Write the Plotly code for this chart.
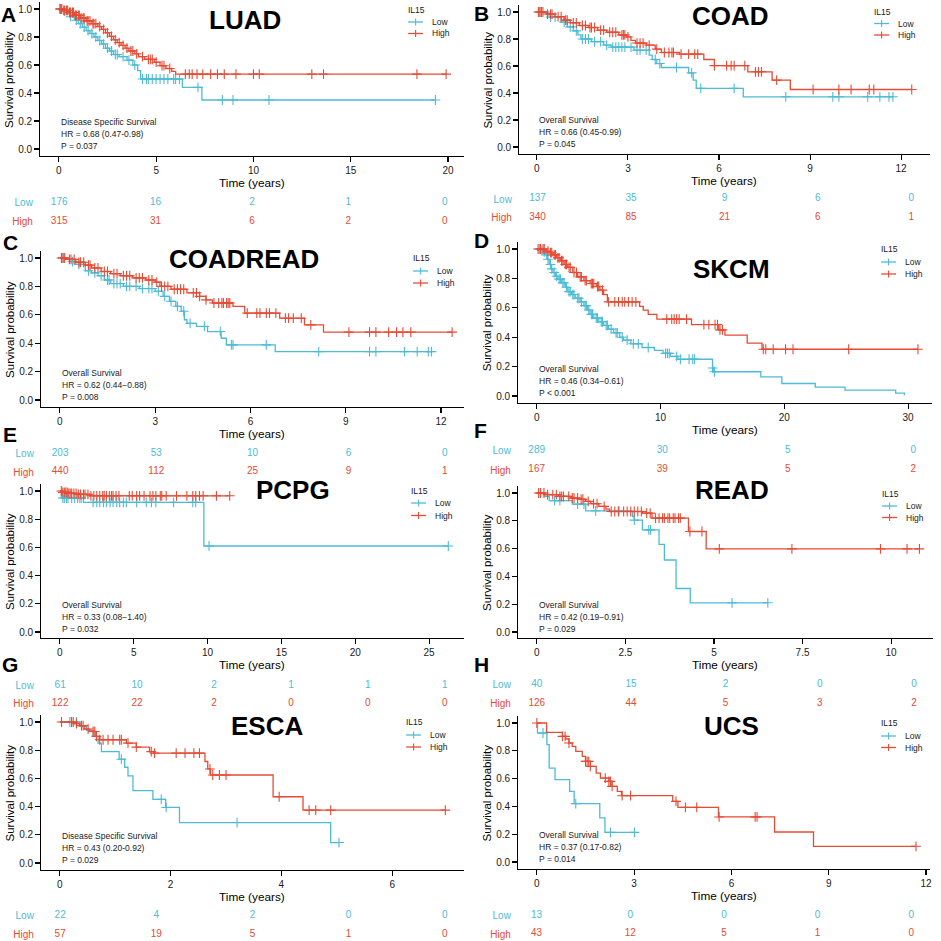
import plotly.graph_objects as go

W = H = 941
LOW_COLOR = "#4DBBD5"
HIGH_COLOR = "#E64B35"
FONT = "Liberation Sans, Arial, sans-serif"
TXT = "#1a1a1a"

# ------------------------------------------------------------------ data
panel_letters = ["A", "B", "C", "D", "E", "F", "G", "H"]
cancer_names = ["LUAD", "COAD", "COADREAD", "SKCM", "PCPG", "READ", "ESCA", "UCS"]
endpoint_texts = ["Disease Specific Survival", "Overall Survival", "Overall Survival",
                  "Overall Survival", "Overall Survival", "Overall Survival",
                  "Disease Specific Survival", "Overall Survival"]
hr_texts = ["HR = 0.68 (0.47-0.98)", "HR = 0.66 (0.45-0.99)", "HR = 0.62 (0.44\u22120.88)",
            "HR = 0.46 (0.34\u22120.61)", "HR = 0.33 (0.08\u22121.40)", "HR = 0.42 (0.19\u22120.91)",
            "HR = 0.43 (0.20-0.92)", "HR = 0.37 (0.17-0.82)"]
p_texts = ["P = 0.037", "P = 0.045", "P = 0.008", "P < 0.001",
           "P = 0.032", "P = 0.029", "P = 0.029", "P = 0.014"]
group_names = ["Low", "High"]
legend_title = "IL15"

# ---- LUAD
luad_ticks = [0, 5, 10, 15, 20]
luad_low_event_t = [0.2, 0.4, 0.6, 0.8, 1.0, 1.2, 1.4, 1.6, 1.8, 2.0, 2.2, 2.4, 2.6, 2.8, 3.1, 3.5, 3.8, 4.05, 4.2, 6.35, 7.35]
luad_low_event_s = [0.985, 0.965, 0.945, 0.92, 0.895, 0.87, 0.845, 0.825, 0.80, 0.775, 0.75, 0.72, 0.70, 0.675, 0.66, 0.635, 0.60, 0.56, 0.50, 0.44, 0.35]
luad_low_censor_t = [0.1, 0.3, 0.6, 0.9, 1.1, 1.3, 1.5, 1.7, 1.9, 2.1, 2.3, 2.5, 2.7, 2.9, 3.0, 3.3, 3.6, 3.9,
                     4.3, 4.5, 4.6, 4.8, 5.0, 5.2, 5.4, 5.6, 5.9, 6.0, 6.2, 7.15, 8.4, 8.95, 10.8, 19.35]
luad_high_event_t = [0.2, 0.5, 0.8, 1.1, 1.4, 1.7, 2.0, 2.2, 2.4, 2.6, 2.8, 3.0, 3.2, 3.4, 3.6, 3.9, 4.1, 4.4, 4.9, 5.2, 5.5, 5.8, 6.0]
luad_high_event_s = [0.99, 0.975, 0.955, 0.935, 0.915, 0.895, 0.875, 0.855, 0.83, 0.805, 0.78, 0.76, 0.74, 0.72, 0.70, 0.68, 0.66, 0.64, 0.62, 0.595, 0.575, 0.555, 0.535]
luad_high_censor_t = [0.05, 0.1, 0.15, 0.25, 0.3, 0.4, 0.45, 0.55, 0.6, 0.7, 0.75, 0.85, 0.9, 1.0, 1.05, 1.15, 1.25, 1.3,
                      1.45, 1.5, 1.6, 1.75, 1.8, 1.9, 2.1, 2.3, 2.5, 2.7, 2.9, 3.1, 3.3, 3.5, 3.7, 3.8, 4.0, 4.3, 4.6,
                      4.7, 4.8, 5.0, 5.3, 5.4, 5.7, 6.5, 6.7, 6.85, 7.1, 7.4, 7.8, 8.15, 8.5, 9.1, 10.0, 10.3, 13.0,
                      13.6, 18.4, 19.9]
luad_risk_t = [0, 5, 10, 15, 20]
luad_risk_low = [176, 16, 2, 1, 0]
luad_risk_high = [315, 31, 6, 2, 0]

# ---- COAD
coad_ticks = [0, 3, 6, 9, 12]
coad_low_event_t = [0.4, 0.8, 1.0, 1.2, 1.35, 1.45, 1.8, 2.2, 2.45, 3.2, 3.7, 3.8, 3.95, 4.1, 5.0, 5.15, 5.25, 6.8]
coad_low_event_s = [0.963, 0.925, 0.89, 0.86, 0.83, 0.80, 0.78, 0.755, 0.74, 0.717, 0.68, 0.648, 0.618, 0.589, 0.549, 0.495, 0.434, 0.372]
coad_low_censor_t = [0.1, 0.45, 0.6, 0.9, 1.1, 1.3, 1.5, 1.6, 1.7, 1.9, 2.1, 2.3, 2.5, 2.6, 2.7, 2.8, 2.9, 3.1, 3.3,
                     3.4, 3.6, 3.9, 4.05, 4.6, 5.1, 5.4, 6.5, 8.2, 9.75, 9.95, 10.9, 11.3, 11.6, 11.73]
coad_high_event_t = [0.3, 0.6, 0.9, 1.1, 1.4, 1.7, 2.0, 2.3, 2.7, 2.95, 3.1, 3.25, 3.6, 3.9, 4.1, 4.7, 5.5, 5.85, 6.95, 7.75, 8.35]
coad_high_event_s = [0.985, 0.965, 0.94, 0.92, 0.90, 0.885, 0.865, 0.85, 0.83, 0.815, 0.79, 0.77, 0.755, 0.725, 0.70, 0.688, 0.648, 0.603, 0.557, 0.495, 0.426]
coad_high_censor_t = [0.05, 0.1, 0.15, 0.2, 0.35, 0.45, 0.5, 0.7, 0.8, 0.95, 1.0, 1.2, 1.3, 1.5, 1.6, 1.75, 1.8, 1.9,
                      2.1, 2.2, 2.4, 2.5, 2.6, 2.8, 2.85, 2.9, 3.0, 3.3, 3.4, 3.5, 3.7, 3.95, 4.2, 4.35, 4.45, 4.5,
                      4.75, 5.0, 5.2, 5.3, 5.85, 6.25, 6.4, 6.5, 6.85, 7.2, 7.3, 7.4, 7.9, 9.1, 9.95, 10.35, 10.95,
                      11.1, 12.35]
coad_risk_t = [0, 3, 6, 9, 12]
coad_risk_low = [137, 35, 9, 6, 0]
coad_risk_high = [340, 85, 21, 6, 1]

# ---- COADREAD
coadread_ticks = [0, 3, 6, 9, 12]
coadread_low_event_t = [0.3, 0.5, 0.8, 1.0, 1.2, 1.4, 1.6, 2.0, 2.5, 3.0, 3.25, 3.45, 3.65, 3.82, 3.92, 4.0, 4.3, 4.65, 5.08, 5.24, 6.78]
coadread_low_event_s = [0.975, 0.955, 0.91, 0.895, 0.875, 0.845, 0.82, 0.80, 0.785, 0.765, 0.73, 0.695, 0.66, 0.625, 0.565, 0.54, 0.518, 0.482, 0.435, 0.388, 0.341]
coadread_low_censor_t = [0.1, 0.4, 0.6, 0.9, 1.1, 1.3, 1.5, 1.55, 1.7, 1.8, 1.9, 2.1, 2.2, 2.4, 2.6, 2.8, 2.9, 3.1,
                         3.3, 3.5, 3.7, 3.9, 4.1, 4.55, 5.05, 5.4, 5.45, 6.5, 8.15, 9.75, 9.95, 10.85, 11.25, 11.6, 11.7]
coadread_high_event_t = [0.2, 0.5, 0.8, 1.0, 1.3, 1.6, 1.9, 2.3, 2.7, 3.0, 3.15, 3.5, 4.0, 4.4, 4.6, 4.8, 5.45, 5.82, 6.92, 7.7, 8.3]
coadread_high_event_s = [0.99, 0.97, 0.95, 0.93, 0.905, 0.89, 0.875, 0.86, 0.845, 0.83, 0.80, 0.78, 0.755, 0.73, 0.705, 0.683, 0.659, 0.612, 0.576, 0.529, 0.478]
coadread_high_censor_t = [0.05, 0.1, 0.15, 0.3, 0.35, 0.45, 0.6, 0.65, 0.75, 0.9, 0.95, 1.1, 1.2, 1.4, 1.5, 1.7, 1.8,
                          2.0, 2.1, 2.2, 2.4, 2.5, 2.6, 2.8, 2.9, 3.05, 3.2, 3.3, 3.4, 3.6, 3.7, 3.8, 3.9, 4.2, 4.3,
                          4.4, 4.6, 4.85, 5.0, 5.1, 5.15, 5.25, 5.3, 5.35, 5.9, 6.2, 6.3, 6.5, 6.6, 6.8, 7.1, 7.2,
                          7.35, 7.6, 7.9, 9.1, 9.75, 9.95, 10.35, 10.6, 10.8, 11.05, 12.35]
coadread_risk_t = [0, 3, 6, 9, 12]
coadread_risk_low = [203, 53, 10, 6, 0]
coadread_risk_high = [440, 112, 25, 9, 1]

# ---- SKCM
skcm_ticks = [0, 10, 20, 30]
skcm_low_event_t = [0.3, 0.5, 0.7, 0.85, 1.0, 1.15, 1.3, 1.5, 1.7, 2.0, 2.3, 2.5, 2.8, 3.1, 3.5, 3.8, 4.1, 4.3, 4.6,
                    5.0, 5.4, 5.8, 6.2, 6.7, 7.0, 7.6, 8.5, 9.5, 10.2, 10.8, 11.4, 14.2, 14.3, 18.1, 19.8, 22.5,
                    24.9, 29.0, 29.7]
skcm_low_event_s = [0.99, 0.98, 0.96, 0.93, 0.895, 0.865, 0.84, 0.815, 0.795, 0.77, 0.74, 0.71, 0.69, 0.665, 0.64,
                    0.615, 0.585, 0.555, 0.53, 0.505, 0.48, 0.455, 0.43, 0.40, 0.38, 0.355, 0.33, 0.31, 0.29, 0.27,
                    0.25, 0.19, 0.165, 0.13, 0.085, 0.06, 0.04, 0.02, 0.005]
skcm_low_censor_t = [0.2, 0.4, 0.6, 0.8, 0.9, 1.1, 1.2, 1.4, 1.6, 1.8, 1.9, 2.1, 2.2, 2.4, 2.6, 2.7, 2.9, 3.0, 3.3,
                     3.4, 3.6, 3.9, 4.0, 4.2, 4.4, 4.5, 4.8, 4.9, 5.2, 5.3, 5.6, 5.7, 6.0, 6.4, 6.5, 6.9, 7.3, 7.8,
                     8.2, 9.0, 10.4, 10.55, 10.7, 11.3, 11.6, 12.3, 12.6, 12.75, 14.2, 14.35]
skcm_high_event_t = [0.75, 1.0, 1.3, 1.6, 1.9, 2.2, 2.5, 2.9, 3.3, 3.8, 4.3, 4.8, 5.1, 5.4, 5.7, 8.3, 8.6, 9.0, 9.7,
                     12.5, 14.7, 15.2, 17.0, 18.2]
skcm_high_event_s = [0.985, 0.975, 0.96, 0.94, 0.92, 0.895, 0.875, 0.84, 0.81, 0.785, 0.765, 0.745, 0.72, 0.69, 0.64,
                     0.61, 0.584, 0.555, 0.523, 0.486, 0.45, 0.414, 0.36, 0.318]
skcm_high_censor_t = [0.1, 0.3, 0.5, 0.6, 0.9, 1.1, 1.2, 1.4, 1.5, 1.7, 1.8, 2.0, 2.1, 2.3, 2.4, 2.6, 2.7, 3.0, 3.2,
                      3.5, 3.6, 3.9, 4.0, 4.4, 4.5, 4.6, 4.9, 5.0, 5.3, 5.8, 6.3, 6.6, 6.9, 7.1, 7.4, 7.7, 8.0,
                      10.5, 10.9, 11.1, 11.3, 11.5, 12.1, 13.5, 13.9, 14.4, 14.6, 14.8, 15.0, 18.3, 18.5, 19.1,
                      20.1, 20.7, 25.2, 30.8]
skcm_risk_t = [0, 10, 20, 30]
skcm_risk_low = [289, 30, 5, 0]
skcm_risk_high = [167, 39, 5, 2]

# ---- PCPG
pcpg_ticks = [0, 5, 10, 15, 20, 25]
pcpg_low_event_t = [0.1, 1.6, 9.75]
pcpg_low_event_s = [0.95, 0.92, 0.61]
pcpg_low_censor_t = [0.2, 0.3, 0.45, 0.55, 0.8, 1.0, 1.2, 1.35, 1.45, 2.25, 2.5, 2.7, 2.95, 3.15, 3.4, 3.6, 3.85,
                     4.05, 4.3, 4.5, 5.2, 5.85, 6.2, 6.5, 7.7, 9.0, 9.2, 10.1, 26.3]
pcpg_high_event_t = [0.2, 0.6, 1.2, 2.0]
pcpg_high_event_s = [0.99, 0.983, 0.976, 0.966]
pcpg_high_censor_t = [0.1, 0.2, 0.3, 0.4, 0.5, 0.6, 0.7, 0.8, 0.95, 1.1, 1.25, 1.4, 1.6, 1.7, 1.9, 2.1, 2.3, 2.5,
                      2.7, 2.9, 3.0, 3.15, 3.35, 3.5, 3.6, 3.8, 4.0, 4.7, 4.9, 5.2, 5.4, 5.7, 6.1, 6.3, 6.5, 6.8,
                      6.9, 7.2, 7.9, 8.6, 9.0, 9.2, 9.45, 9.7, 10.6, 11.5]
pcpg_risk_t = [0, 5, 10, 15, 20, 25]
pcpg_risk_low = [61, 10, 2, 1, 1, 1]
pcpg_risk_high = [122, 22, 2, 0, 0, 0]

# ---- READ
read_ticks = [0, 2.5, 5, 7.5, 10]
read_low_event_t = [0.22, 0.35, 1.0, 1.38, 2.7, 2.75, 2.98, 3.45, 3.6, 3.93, 4.33]
read_low_event_s = [0.976, 0.945, 0.92, 0.872, 0.83, 0.805, 0.735, 0.63, 0.518, 0.313, 0.21]
read_low_censor_t = [0.11, 0.5, 0.65, 1.15, 1.33, 1.66, 2.32, 2.75, 3.16, 3.21, 5.51, 6.52]
read_high_event_t = [0.25, 0.6, 0.95, 1.2, 1.38, 1.52, 1.75, 1.95, 2.05, 2.98, 3.25, 4.28, 4.78]
read_high_event_s = [0.988, 0.976, 0.964, 0.955, 0.94, 0.923, 0.904, 0.884, 0.867, 0.855, 0.819, 0.723, 0.598]
read_high_censor_t = [0.05, 0.1, 0.2, 0.3, 0.45, 0.55, 0.65, 0.7, 0.75, 0.9, 1.0, 1.05, 1.15, 1.25, 1.3, 1.45, 1.6,
                      1.7, 1.9, 2.1, 2.2, 2.3, 2.45, 2.55, 2.65, 2.75, 2.85, 2.95, 3.1, 3.2, 3.35, 3.45, 3.55, 3.6,
                      3.7, 3.75, 3.85, 3.9, 4.0, 4.05, 4.32, 4.66, 5.15, 7.2, 9.7, 10.45, 10.8]
read_risk_t = [0, 2.5, 5, 7.5, 10]
read_risk_low = [40, 15, 2, 0, 0]
read_risk_high = [126, 44, 5, 3, 2]

# ---- ESCA
esca_ticks = [0, 2, 4, 6]
esca_low_event_t = [0.36, 0.48, 0.6, 0.69, 0.75, 1.07, 1.17, 1.23, 1.32, 1.68, 1.91, 2.16, 4.89]
esca_low_event_s = [0.97, 0.94, 0.898, 0.85, 0.79, 0.736, 0.679, 0.618, 0.513, 0.451, 0.394, 0.287, 0.145]
esca_low_censor_t = [0.18, 0.3, 1.11, 1.83, 1.92, 3.2, 5.04]
esca_high_event_t = [0.25, 0.36, 0.45, 0.54, 0.65, 0.72, 1.2, 1.38, 1.62, 1.69, 2.62, 2.67, 2.72, 3.85, 4.39]
esca_high_event_s = [0.988, 0.974, 0.95, 0.933, 0.898, 0.874, 0.85, 0.822, 0.79, 0.779, 0.72, 0.667, 0.624, 0.47, 0.375]
esca_high_censor_t = [0.03, 0.21, 0.24, 0.3, 0.39, 0.42, 0.51, 0.6, 0.63, 0.66, 0.72, 0.78, 0.87, 0.96, 1.08, 1.11,
                      1.23, 1.38, 1.65, 1.71, 2.1, 2.26, 2.42, 2.52, 2.71, 2.76, 2.88, 3.0, 3.96, 4.5, 4.62, 4.89, 6.96]
esca_risk_t = [0, 2, 4, 6, 8]
esca_risk_low = [22, 4, 2, 0, 0]
esca_risk_high = [57, 19, 5, 1, 0]

# ---- UCS
ucs_ticks = [0, 3, 6, 9, 12]
ucs_low_event_t = [0.02, 0.31, 0.38, 0.56, 1.01, 1.15, 1.94, 2.1]
ucs_low_event_s = [0.928, 0.844, 0.676, 0.592, 0.508, 0.42, 0.317, 0.213]
ucs_low_censor_t = [0.19, 1.2, 2.27, 3.01]
ucs_high_event_t = [0.3, 0.79, 0.89, 0.99, 1.09, 1.2, 1.4, 1.5, 1.65, 1.83, 1.96, 2.22, 2.32, 2.48, 2.61, 4.19, 4.35,
                    5.6, 7.33, 8.53]
ucs_high_event_s = [0.933, 0.904, 0.885, 0.856, 0.832, 0.796, 0.76, 0.724, 0.688, 0.64, 0.604, 0.58, 0.544, 0.508,
                    0.477, 0.436, 0.393, 0.324, 0.216, 0.113]
ucs_high_censor_t = [0.0, 0.79, 0.87, 0.99, 1.5, 1.55, 1.6, 1.65, 2.11, 2.22, 2.27, 2.32, 2.63, 2.89, 4.29, 4.58,
                     4.93, 5.62, 6.73, 6.79, 11.69]
ucs_risk_t = [0, 3, 6, 9, 12]
ucs_risk_low = [13, 0, 0, 0, 0]
ucs_risk_high = [43, 12, 5, 1, 0]

panel_data = [
    (luad_ticks, (luad_low_event_t, luad_low_event_s, luad_low_censor_t),
     (luad_high_event_t, luad_high_event_s, luad_high_censor_t), luad_risk_t, luad_risk_low, luad_risk_high),
    (coad_ticks, (coad_low_event_t, coad_low_event_s, coad_low_censor_t),
     (coad_high_event_t, coad_high_event_s, coad_high_censor_t), coad_risk_t, coad_risk_low, coad_risk_high),
    (coadread_ticks, (coadread_low_event_t, coadread_low_event_s, coadread_low_censor_t),
     (coadread_high_event_t, coadread_high_event_s, coadread_high_censor_t), coadread_risk_t, coadread_risk_low,
     coadread_risk_high),
    (skcm_ticks, (skcm_low_event_t, skcm_low_event_s, skcm_low_censor_t),
     (skcm_high_event_t, skcm_high_event_s, skcm_high_censor_t), skcm_risk_t, skcm_risk_low, skcm_risk_high),
    (pcpg_ticks, (pcpg_low_event_t, pcpg_low_event_s, pcpg_low_censor_t),
     (pcpg_high_event_t, pcpg_high_event_s, pcpg_high_censor_t), pcpg_risk_t, pcpg_risk_low, pcpg_risk_high),
    (read_ticks, (read_low_event_t, read_low_event_s, read_low_censor_t),
     (read_high_event_t, read_high_event_s, read_high_censor_t), read_risk_t, read_risk_low, read_risk_high),
    (esca_ticks, (esca_low_event_t, esca_low_event_s, esca_low_censor_t),
     (esca_high_event_t, esca_high_event_s, esca_high_censor_t), esca_risk_t, esca_risk_low, esca_risk_high),
    (ucs_ticks, (ucs_low_event_t, ucs_low_event_s, ucs_low_censor_t),
     (ucs_high_event_t, ucs_high_event_s, ucs_high_censor_t), ucs_risk_t, ucs_risk_low, ucs_risk_high),
]

# ------------------------------------------------------------------ layout geometry (pixels)
# L, R: axis box left/right; x0p: pixel of t=0; kx: px per year; y1p/y0p: pixel of S=1/S=0; B: box bottom
geom = [
    dict(L=40, R=465, x0p=59, kx=19.5, y1p=9, y0p=149, B=156),
    dict(L=520, R=932, x0p=538, kx=30.42, y1p=12, y0p=147, B=154),
    dict(L=41, R=465, x0p=60, kx=31.83, y1p=258, y0p=400, B=407),
    dict(L=519, R=934, x0p=538, kx=12.4, y1p=249, y0p=396, B=403),
    dict(L=41, R=465, x0p=60, kx=14.8, y1p=491, y0p=632, B=638),
    dict(L=519, R=935, x0p=538, kx=35.5, y1p=493, y0p=632, B=638),
    dict(L=41, R=465, x0p=60, kx=55.5, y1p=722, y0p=863, B=870),
    dict(L=519, R=932, x0p=538, kx=32.5, y1p=723, y0p=862, B=869),
]
risk_rows = [(202, 221), (199, 217.3), (453.3, 472), (450.7, 470), (685, 703.5), (684, 703.5), (915.7, 934.3), (915.7, 934)]
letter_pos = [(8.5, 14.5), (482.5, 13.5), (10.5, 242.5), (482.5, 240.5), (10, 434.5), (482, 431), (10.5, 664.5), (483, 664.5)]
title_pos = [(246, 19.5), (732.5, 16), (245, 259), (733, 269), (293.5, 490), (733.5, 490), (267.5, 726), (733.5, 726)]
legend_pos = [(407, 10, 22, 33.5), (874, 12, 23.5, 35), (412, 258, 271, 283), (881, 249, 262, 274),
              (410, 491, 503, 515.5), (882, 494, 506, 517.5), (405, 722, 735, 747), (881, 723, 736, 747.5)]


def px(x):
    return x / W


def py(y):
    return 1 - y / H


def surv_at(t, ev_t, ev_s):
    s = 1.0
    for a, b in zip(ev_t, ev_s):
        if a <= t:
            s = b
    return s


def fmt(v):
    return f"{v:g}"


fig = go.Figure()
annotations = []
shapes = []
layout_axes = {}

for i, (ticks, low, high, risk_t, risk_low, risk_high) in enumerate(panel_data):
    g = geom[i]
    nk = 2 * i + 1
    nr = 2 * i + 2
    ky = g["y0p"] - g["y1p"]
    T = g["y0p"] - 1.05 * ky
    xr = [(g["L"] - g["x0p"]) / g["kx"], (g["R"] - g["x0p"]) / g["kx"]]
    yr = [(g["y0p"] - g["B"]) / ky, 1.05]

    sfx_k = "" if nk == 1 else str(nk)
    layout_axes["xaxis" + sfx_k] = dict(
        domain=[px(g["L"]), px(g["R"])], range=xr, anchor="y" + sfx_k,
        showline=True, linecolor="black", linewidth=1.3, mirror=False,
        ticks="outside", ticklen=4.5, tickwidth=1.1, tickcolor="black",
        tickvals=ticks, ticktext=[fmt(v) for v in ticks],
        tickfont=dict(size=10, color=TXT, family=FONT),
        showgrid=False, zeroline=False)
    layout_axes["yaxis" + sfx_k] = dict(
        domain=[py(g["B"]), py(T)], range=yr, anchor="x" + sfx_k,
        showline=True, linecolor="black", linewidth=1.3,
        ticks="outside", ticklen=4.5, tickwidth=1.1, tickcolor="black",
        tickvals=[0, 0.2, 0.4, 0.6, 0.8, 1.0], ticktext=["0.0", "0.2", "0.4", "0.6", "0.8", "1.0"],
        tickfont=dict(size=10, color=TXT, family=FONT),
        showgrid=False, zeroline=False)

    # risk table axes: High row at value 0, Low row at value 1
    Tr = risk_t[-1]
    yl, yh = risk_rows[i]
    s = yh - yl
    top_px = yl - s / 2
    bot_px = min(yh + s / 2, H - 0.5)
    layout_axes["xaxis" + str(nr)] = dict(
        domain=[px(g["L"]), px(g["R"])], range=[-0.05 * Tr, 1.05 * Tr], anchor="y" + str(nr),
        showline=False, showticklabels=False, ticks="", showgrid=False, zeroline=False)
    layout_axes["yaxis" + str(nr)] = dict(
        domain=[py(bot_px), py(top_px)], range=[(yh - bot_px) / s, (yh - top_px) / s], anchor="x" + str(nr),
        showline=False, ticks="", showgrid=False, zeroline=False,
        tickvals=[0, 1],
        ticktext=[f'<span style="color:{HIGH_COLOR}">{group_names[1]}</span>',
                  f'<span style="color:{LOW_COLOR}">{group_names[0]}</span>'],
        tickfont=dict(size=10, family=FONT), ticklabelstandoff=6)

    # curves
    for (ev_t, ev_s, cen_t), color in ((low, LOW_COLOR), (high, HIGH_COLOR)):
        t_end = max(ev_t + cen_t)
        xs = [0] + list(ev_t) + [t_end]
        ys = [1.0] + list(ev_s) + [ev_s[-1]]
        fig.add_trace(go.Scatter(x=xs, y=ys, mode="lines", line=dict(color=color, width=1.3, shape="hv"),
                                 xaxis="x" + sfx_k, yaxis="y" + sfx_k, showlegend=False, hoverinfo="skip"))
        fig.add_trace(go.Scatter(x=cen_t, y=[surv_at(t, ev_t, ev_s) for t in cen_t], mode="markers",
                                 marker=dict(symbol="cross-thin", size=7, color=color,
                                             line=dict(color=color, width=1.1)),
                                 xaxis="x" + sfx_k, yaxis="y" + sfx_k, showlegend=False, hoverinfo="skip"))

    # risk table numbers
    for vals, yv, color in ((risk_low, 1, LOW_COLOR), (risk_high, 0, HIGH_COLOR)):
        fig.add_trace(go.Scatter(x=risk_t, y=[yv] * len(risk_t), mode="text", text=[str(v) for v in vals],
                                 textposition="middle center", textfont=dict(size=10, color=color, family=FONT),
                                 xaxis="x" + str(nr), yaxis="y" + str(nr), showlegend=False, hoverinfo="skip"))

    # axis titles
    annotations.append(dict(x=px((g["L"] + g["R"]) / 2), y=py(g["B"] + 27), xref="paper", yref="paper",
                            text="Time (years)", showarrow=False, xanchor="center", yanchor="middle",
                            font=dict(size=11.8, color="black", family=FONT)))
    annotations.append(dict(x=px(g["L"] - 31), y=py((T + g["B"]) / 2), xref="paper", yref="paper",
                            text="Survival probability", textangle=-90, showarrow=False,
                            xanchor="center", yanchor="middle", font=dict(size=11.5, color="black", family=FONT)))
    # stats text
    for txt, off in ((endpoint_texts[i], 27), (hr_texts[i], 15), (p_texts[i], 3)):
        annotations.append(dict(x=px(g["x0p"]), y=py(g["y0p"] - off), xref="paper", yref="paper",
                                text=txt, showarrow=False, xanchor="left", yanchor="middle",
                                font=dict(size=8.5, color=TXT, family=FONT)))
    # panel letter and title
    lx, ly = letter_pos[i]
    annotations.append(dict(x=px(lx), y=py(ly), xref="paper", yref="paper", text=f"<b>{panel_letters[i]}</b>",
                            showarrow=False, xanchor="center", yanchor="middle",
                            font=dict(size=21, color="black", family=FONT)))
    tx, ty = title_pos[i]
    annotations.append(dict(x=px(tx), y=py(ty), xref="paper", yref="paper", text=f"<b>{cancer_names[i]}</b>",
                            showarrow=False, xanchor="center", yanchor="middle",
                            font=dict(size=26, color="black", family=FONT)))
    # legend
    gx, gyt, gyl, gyh = legend_pos[i]
    annotations.append(dict(x=px(gx), y=py(gyt), xref="paper", yref="paper", text=legend_title,
                            showarrow=False, xanchor="left", yanchor="middle",
                            font=dict(size=8.5, color=TXT, family=FONT)))
    for name, gy, color in ((group_names[0], gyl, LOW_COLOR), (group_names[1], gyh, HIGH_COLOR)):
        shapes.append(dict(type="line", xref="paper", yref="paper", x0=px(gx + 2), x1=px(gx + 17),
                           y0=py(gy), y1=py(gy), line=dict(color=color, width=1.3)))
        shapes.append(dict(type="line", xref="paper", yref="paper", x0=px(gx + 9.5), x1=px(gx + 9.5),
                           y0=py(gy - 3.5), y1=py(gy + 3.5), line=dict(color=color, width=1.1)))
        annotations.append(dict(x=px(gx + 23.5), y=py(gy), xref="paper", yref="paper", text=name,
                                showarrow=False, xanchor="left", yanchor="middle",
                                font=dict(size=8.5, color=TXT, family=FONT)))

fig.update_layout(
    width=W, height=H, autosize=False,
    margin=dict(l=0, r=0, t=0, b=0, pad=0),
    paper_bgcolor="white", plot_bgcolor="white",
    font=dict(family=FONT, color=TXT),
    showlegend=False,
    hovermode=False,
    annotations=annotations, shapes=shapes,
    **layout_axes,
)

fig.write_html("out.html",
               config={"displayModeBar": False, "staticPlot": True},
               post_script="document.body.style.margin='0';document.body.style.padding='0';"
                           "document.body.style.overflow='hidden';")
